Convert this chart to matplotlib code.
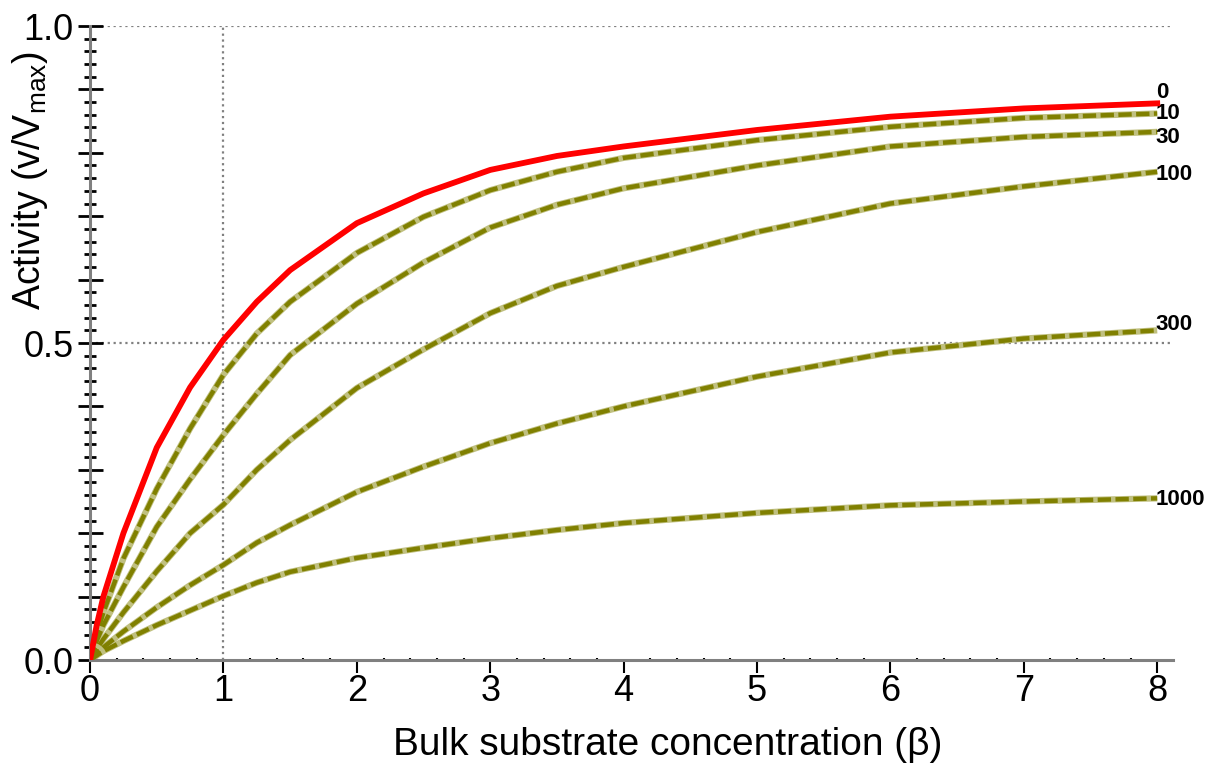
import matplotlib
matplotlib.use('Agg')
import matplotlib.pyplot as plt
from matplotlib.ticker import MultipleLocator, FuncFormatter

plt.rcParams['font.family'] = ['Liberation Sans Narrow', 'Liberation Sans', 'DejaVu Sans']
plt.rcParams['mathtext.fontset'] = 'custom'
plt.rcParams['mathtext.rm'] = 'Liberation Sans'

# bulk substrate concentration (beta)
beta = [0, 0.05, 0.1, 0.25, 0.5, 0.75, 1, 1.25, 1.5, 2, 2.5, 3, 3.5, 4, 5, 6, 7, 8]

# activity v/Vmax, one list per curve
act_0 = [0, 0.055, 0.10, 0.20, 0.335, 0.43, 0.505, 0.565, 0.615, 0.689, 0.736, 0.773, 0.795, 0.81, 0.836, 0.857, 0.87, 0.878]
act_10 = [0, 0.04, 0.075, 0.16, 0.27, 0.365, 0.45, 0.515, 0.565, 0.642, 0.699, 0.741, 0.77, 0.792, 0.82, 0.841, 0.855, 0.862]
act_30 = [0, 0.03, 0.055, 0.115, 0.21, 0.285, 0.355, 0.42, 0.481, 0.562, 0.627, 0.682, 0.718, 0.744, 0.78, 0.81, 0.825, 0.833]
act_100 = [0, 0.017, 0.033, 0.075, 0.14, 0.2, 0.245, 0.3, 0.347, 0.429, 0.49, 0.547, 0.59, 0.62, 0.675, 0.72, 0.747, 0.77]
act_300 = [0, 0.01, 0.02, 0.045, 0.083, 0.118, 0.15, 0.185, 0.213, 0.265, 0.305, 0.342, 0.373, 0.40, 0.447, 0.485, 0.507, 0.52]
act_1000 = [0, 0.007, 0.014, 0.03, 0.055, 0.078, 0.101, 0.122, 0.139, 0.161, 0.177, 0.192, 0.205, 0.216, 0.232, 0.244, 0.25, 0.255]

curve_labels = ['0', '10', '30', '100', '300', '1000']
olive = '#808000'

fig = plt.figure(figsize=(12.12, 7.67), dpi=100)
ax = fig.add_axes([0.0743, 0.1395, 0.8937, 0.8266])

# reference lines
ax.axhline(1.0, color='#808080', ls=':', lw=1.6, zorder=1)
ax.axhline(0.5, color='#808080', ls=':', lw=1.6, zorder=1)
ax.axvline(1.0, ymin=0, ymax=1, color='#808080', ls=':', lw=1.6, zorder=1)

olive_sets = [act_10, act_30, act_100, act_300, act_1000]
for vals in olive_sets:
    ax.plot(beta, vals, color='#c0c080', lw=4.5, zorder=2, solid_capstyle='butt')
    ax.plot(beta, vals, color=olive, lw=3.2, ls=(0, (3, 1)), zorder=3)
ax.plot(beta, act_0, color='#ff0000', lw=4.2, zorder=4)

# curve names at the right end
offsets = [8, 0, -4, -2, 4, -1]
all_sets = [act_0] + olive_sets
for name, vals, dy in zip(curve_labels, all_sets, offsets):
    ax.annotate(name, (beta[-1], vals[-1]), xytext=(-1, dy), textcoords='offset points',
                ha='left', va='center', fontsize=16, fontweight='bold', color='black',
                annotation_clip=False)

ax.set_xlim(0, 8.12)
ax.set_ylim(0, 1.0)
for s in ['top', 'right']:
    ax.spines[s].set_visible(False)
for s in ['left', 'bottom']:
    ax.spines[s].set_color('#808080')
    ax.spines[s].set_linewidth(2.2)

ax.xaxis.set_major_locator(MultipleLocator(1))
ax.xaxis.set_minor_locator(MultipleLocator(0.2))
ax.yaxis.set_major_locator(MultipleLocator(0.1))
ax.yaxis.set_minor_locator(MultipleLocator(0.02))
ax.yaxis.set_major_formatter(FuncFormatter(
    lambda v, p: ('%.1f' % v) if abs(v * 2 - round(v * 2)) < 1e-6 else ''))

ax.tick_params(axis='x', which='major', direction='out', length=9, width=1.5,
               color='black', labelsize=26, pad=1)
ax.tick_params(axis='x', which='minor', direction='inout', length=3, width=1.5, color='black')
ax.tick_params(axis='y', which='major', direction='inout', length=18, width=2,
               color='black', labelsize=26, pad=3)
ax.tick_params(axis='y', which='minor', direction='inout', length=8, width=2, color='black')

ax.set_xlabel('Bulk substrate concentration (β)', fontsize=28)
ax.xaxis.set_label_coords(0.533, -0.105)
ax.set_ylabel(r'Activity (v/V$_{\mathregular{max}}$)', fontsize=27)
ax.yaxis.set_label_coords(-0.037, 0.757)

fig.savefig('out.png', dpi=100)
